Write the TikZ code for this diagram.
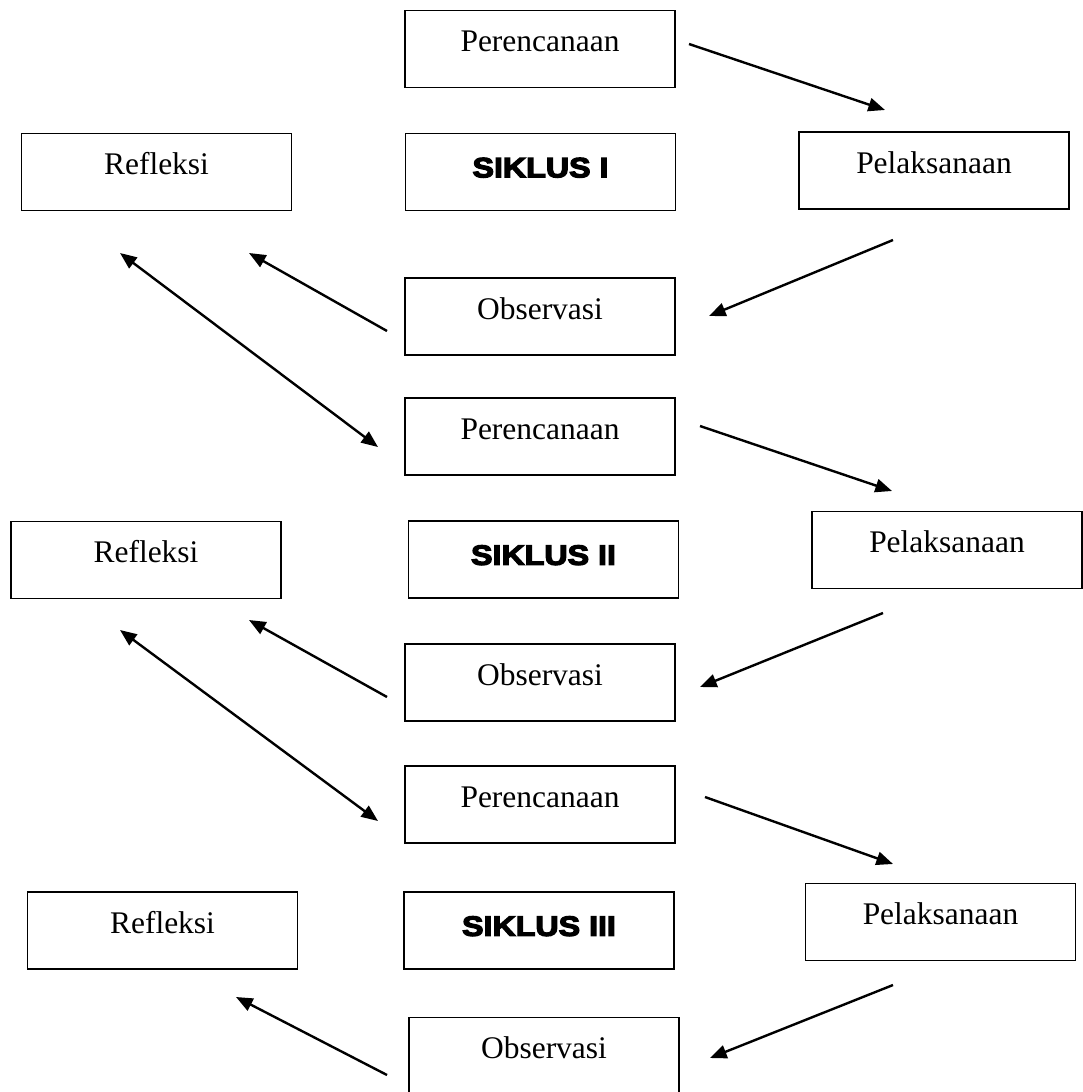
\documentclass[tikz,border=0pt]{standalone}
\usepackage{fontspec}
\setmainfont{Liberation Serif}
\newfontfamily\siklusfont[FakeStretch=1.15,FakeBold=4.5]{Liberation Sans}
\usetikzlibrary{arrows.meta}

\begin{document}
\begin{tikzpicture}[x=0.75pt, y=-0.75pt, >={Triangle[length=12.5pt,width=10pt]},
	box/.style={draw, rectangle, line width=1.3pt, minimum width=202.5pt, minimum height=57.75pt, inner sep=0pt, text height=12pt, text depth=8pt, font=\fontsize{23.6}{28}\selectfont},
	siklus/.style={box, text height=14pt, text depth=6pt, font=\siklusfont\bfseries\fontsize{21}{24}\selectfont},
	arrow/.style={->, line width=1.8pt}]
	\useasboundingbox (0,0) rectangle (1082,1092);
	
	% Define nodes: siklus I
	\node [box] (per1) at (540,49) {Perencanaan};
	\node [box] (ref1) at (156.5,172) {Refleksi};
	\node [siklus] (sik1) at (540.5,172) {SIKLUS I};
	\node [box] (pel1) at (934,170.5) {Pelaksanaan};
	\node [box] (obs1) at (540,316.5) {Observasi};
	
	% Define nodes: siklus II
	\node [box] (per2) at (540,436.5) {Perencanaan};
	\node [box] (ref2) at (146,560) {Refleksi};
	\node [siklus] (sik2) at (543.5,559.5) {SIKLUS II};
	\node [box] (pel2) at (947,550) {Pelaksanaan};
	\node [box] (obs2) at (540,682.5) {Observasi};
	
	% Define nodes: siklus III
	\node [box] (per3) at (540,804.5) {Perencanaan};
	\node [box] (ref3) at (162.5,930.5) {Refleksi};
	\node [siklus] (sik3) at (539,930.5) {SIKLUS III};
	\node [box] (pel3) at (940.5,922) {Pelaksanaan};
	\node [box] (obs3) at (544,1056) {Observasi};
	
	% Arrow end points
	\coordinate (a1s) at (689,44);   \coordinate (a1e) at (885,110);
	\coordinate (a2s) at (893,240);  \coordinate (a2e) at (709,316);
	\coordinate (a3s) at (387,331);  \coordinate (a3e) at (249,253);
	\coordinate (a4s) at (120,253);  \coordinate (a4e) at (378,447);
	\coordinate (b1s) at (700,426);  \coordinate (b1e) at (892,491);
	\coordinate (b2s) at (883,613);  \coordinate (b2e) at (700,687);
	\coordinate (b3s) at (387,697);  \coordinate (b3e) at (249,620);
	\coordinate (b4s) at (120,630);  \coordinate (b4e) at (378,821);
	\coordinate (c1s) at (705,797);  \coordinate (c1e) at (893,864);
	\coordinate (c2s) at (893,985);  \coordinate (c2e) at (710,1058);
	\coordinate (c3s) at (387,1075); \coordinate (c3e) at (236,997);
	
	% Arrows
	\draw[arrow] (a1s) -- (a1e);
	\draw[arrow] (a2s) -- (a2e);
	\draw[arrow] (a3s) -- (a3e);
	\draw[arrow, <->] (a4s) -- (a4e);
	\draw[arrow] (b1s) -- (b1e);
	\draw[arrow] (b2s) -- (b2e);
	\draw[arrow] (b3s) -- (b3e);
	\draw[arrow, <->] (b4s) -- (b4e);
	\draw[arrow] (c1s) -- (c1e);
	\draw[arrow] (c2s) -- (c2e);
	\draw[arrow] (c3s) -- (c3e);
\end{tikzpicture}
\end{document}
